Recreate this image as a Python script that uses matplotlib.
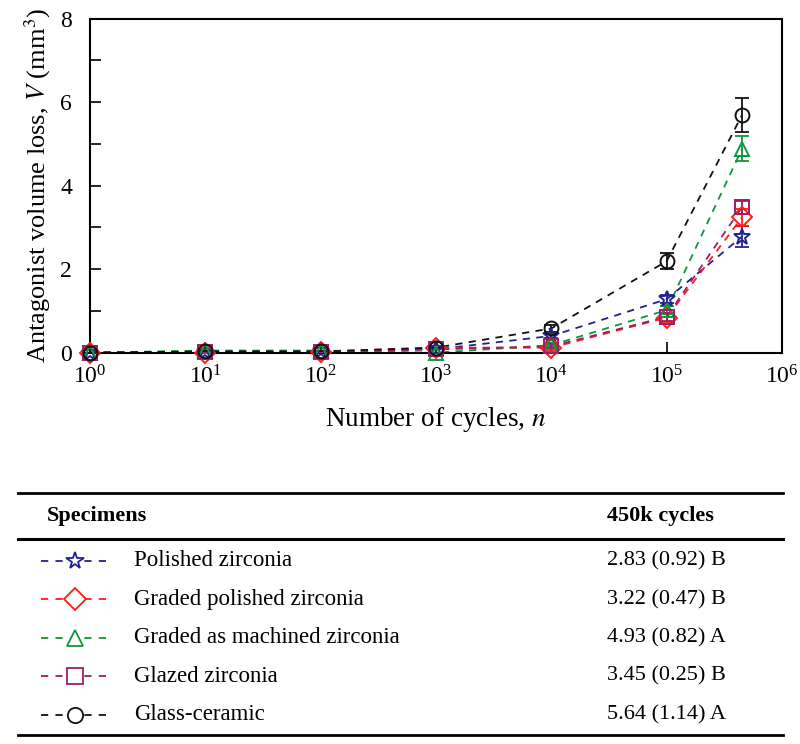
import numpy as np
import matplotlib
matplotlib.use('Agg')
import matplotlib.pyplot as plt
from matplotlib.lines import Line2D

plt.rcParams['font.family'] = ['Liberation Serif', 'DejaVu Serif']
plt.rcParams['mathtext.fontset'] = 'stix'

# --- data ---
cycles = [1, 10, 100, 1000, 1e4, 1e5, 4.5e5]

specimens = ['Polished zirconia', 'Graded polished zirconia',
             'Graded as machined zirconia', 'Glazed zirconia', 'Glass-ceramic']
results_450k = ['2.83 (0.92) B', '3.22 (0.47) B', '4.93 (0.82) A',
                '3.45 (0.25) B', '5.64 (1.14) A']

polished = [0.0, 0.02, 0.03, 0.08, 0.40, 1.28, 2.78]
polished_err = [0.0, 0.0, 0.0, 0.0, 0.05, 0.10, 0.25]
graded_pol = [0.0, 0.0, 0.02, 0.12, 0.12, 0.84, 3.24]
graded_pol_err = [0.0, 0.0, 0.0, 0.0, 0.05, 0.10, 0.20]
graded_mach = [0.0, 0.05, 0.05, 0.0, 0.18, 1.02, 4.88]
graded_mach_err = [0.0, 0.0, 0.0, 0.0, 0.05, 0.10, 0.30]
glazed = [0.0, 0.02, 0.02, 0.08, 0.15, 0.86, 3.48]
glazed_err = [0.0, 0.0, 0.0, 0.0, 0.05, 0.10, 0.15]
glass = [0.0, 0.03, 0.03, 0.12, 0.58, 2.19, 5.69]
glass_err = [0.0, 0.0, 0.0, 0.0, 0.08, 0.19, 0.40]

series = [polished, graded_pol, graded_mach, glazed, glass]
errors = [polished_err, graded_pol_err, graded_mach_err, glazed_err, glass_err]
colors = ['#22228c', '#ff1a1a', '#10963c', '#9c1f66', '#111111']
markers = ['*', 'D', '^', 's', 'o']
msizes = [12, 10, 10, 10, 10]

fig = plt.figure(figsize=(8, 7.44), dpi=100)
ax = fig.add_axes([0.1125, 0.526, 0.865, 0.449])

for y, e, c, m, ms in zip(series, errors, colors, markers, msizes):
    ax.plot(cycles, y, ls=(0, (4, 3.5)), lw=1.3, color=c, zorder=2)
    ax.errorbar(cycles, y, yerr=e, fmt='none', ecolor=c, elinewidth=1.3,
                capsize=5, capthick=1.3, zorder=3, clip_on=False)
    ax.plot(cycles, y, ls='none', marker=m, ms=ms, mfc='none', mec=c,
            mew=1.4, zorder=4, clip_on=False)

ax.set_xscale('log')
ax.set_xlim(1, 1e6)
ax.set_ylim(0, 8)
ax.set_yticks([0, 2, 4, 6, 8])
ax.set_yticks([1, 3, 5, 7], minor=True)
ax.set_xticks([1, 10, 100, 1e3, 1e4, 1e5, 1e6])
ax.xaxis.set_minor_locator(matplotlib.ticker.NullLocator())
ax.tick_params(which='both', direction='in', length=8, width=1.2,
               labelsize=17, top=False, right=False)
ax.tick_params(axis='x', pad=9)
ax.tick_params(axis='y', pad=13)
for s in ax.spines.values():
    s.set_linewidth(1.5)

ax.set_xlabel('Number of cycles, $n$', fontsize=19.5, labelpad=12)
ax.set_ylabel('Antagonist volume loss, $V$ (mm$^3$)', fontsize=19, labelpad=5)

# --- table below the chart ---
tab = fig.add_axes([0, 0, 1, 1], zorder=-1)
tab.set_xlim(0, 800)
tab.set_ylim(744, 0)
tab.axis('off')

tab.add_line(Line2D([18, 783], [493, 493], color='k', lw=2))
tab.add_line(Line2D([18, 783], [539, 539], color='k', lw=2.2))
tab.add_line(Line2D([18, 783], [735, 735], color='k', lw=2))
tab.text(47, 516, 'Specimens', fontsize=16, fontweight='bold', va='center')
tab.text(607, 516, '450k cycles', fontsize=16, fontweight='bold', va='center')

row_y0 = 561
row_dy = 38.4
for i, (name, val) in enumerate(zip(specimens, results_450k)):
    yy = row_y0 + i * row_dy
    tab.plot([41, 108], [yy, yy], ls=(0, (4, 4)), lw=1.3, color=colors[i])
    tab.plot([75], [yy], ls='none', marker=markers[i], ms=msizes[i] + 1,
             mfc='white', mec=colors[i], mew=1.3)
    tab.text(134, yy, name, fontsize=16.5, va='center')
    tab.text(607, yy, val, fontsize=16, va='center')

fig.savefig('out.png', dpi=100)
